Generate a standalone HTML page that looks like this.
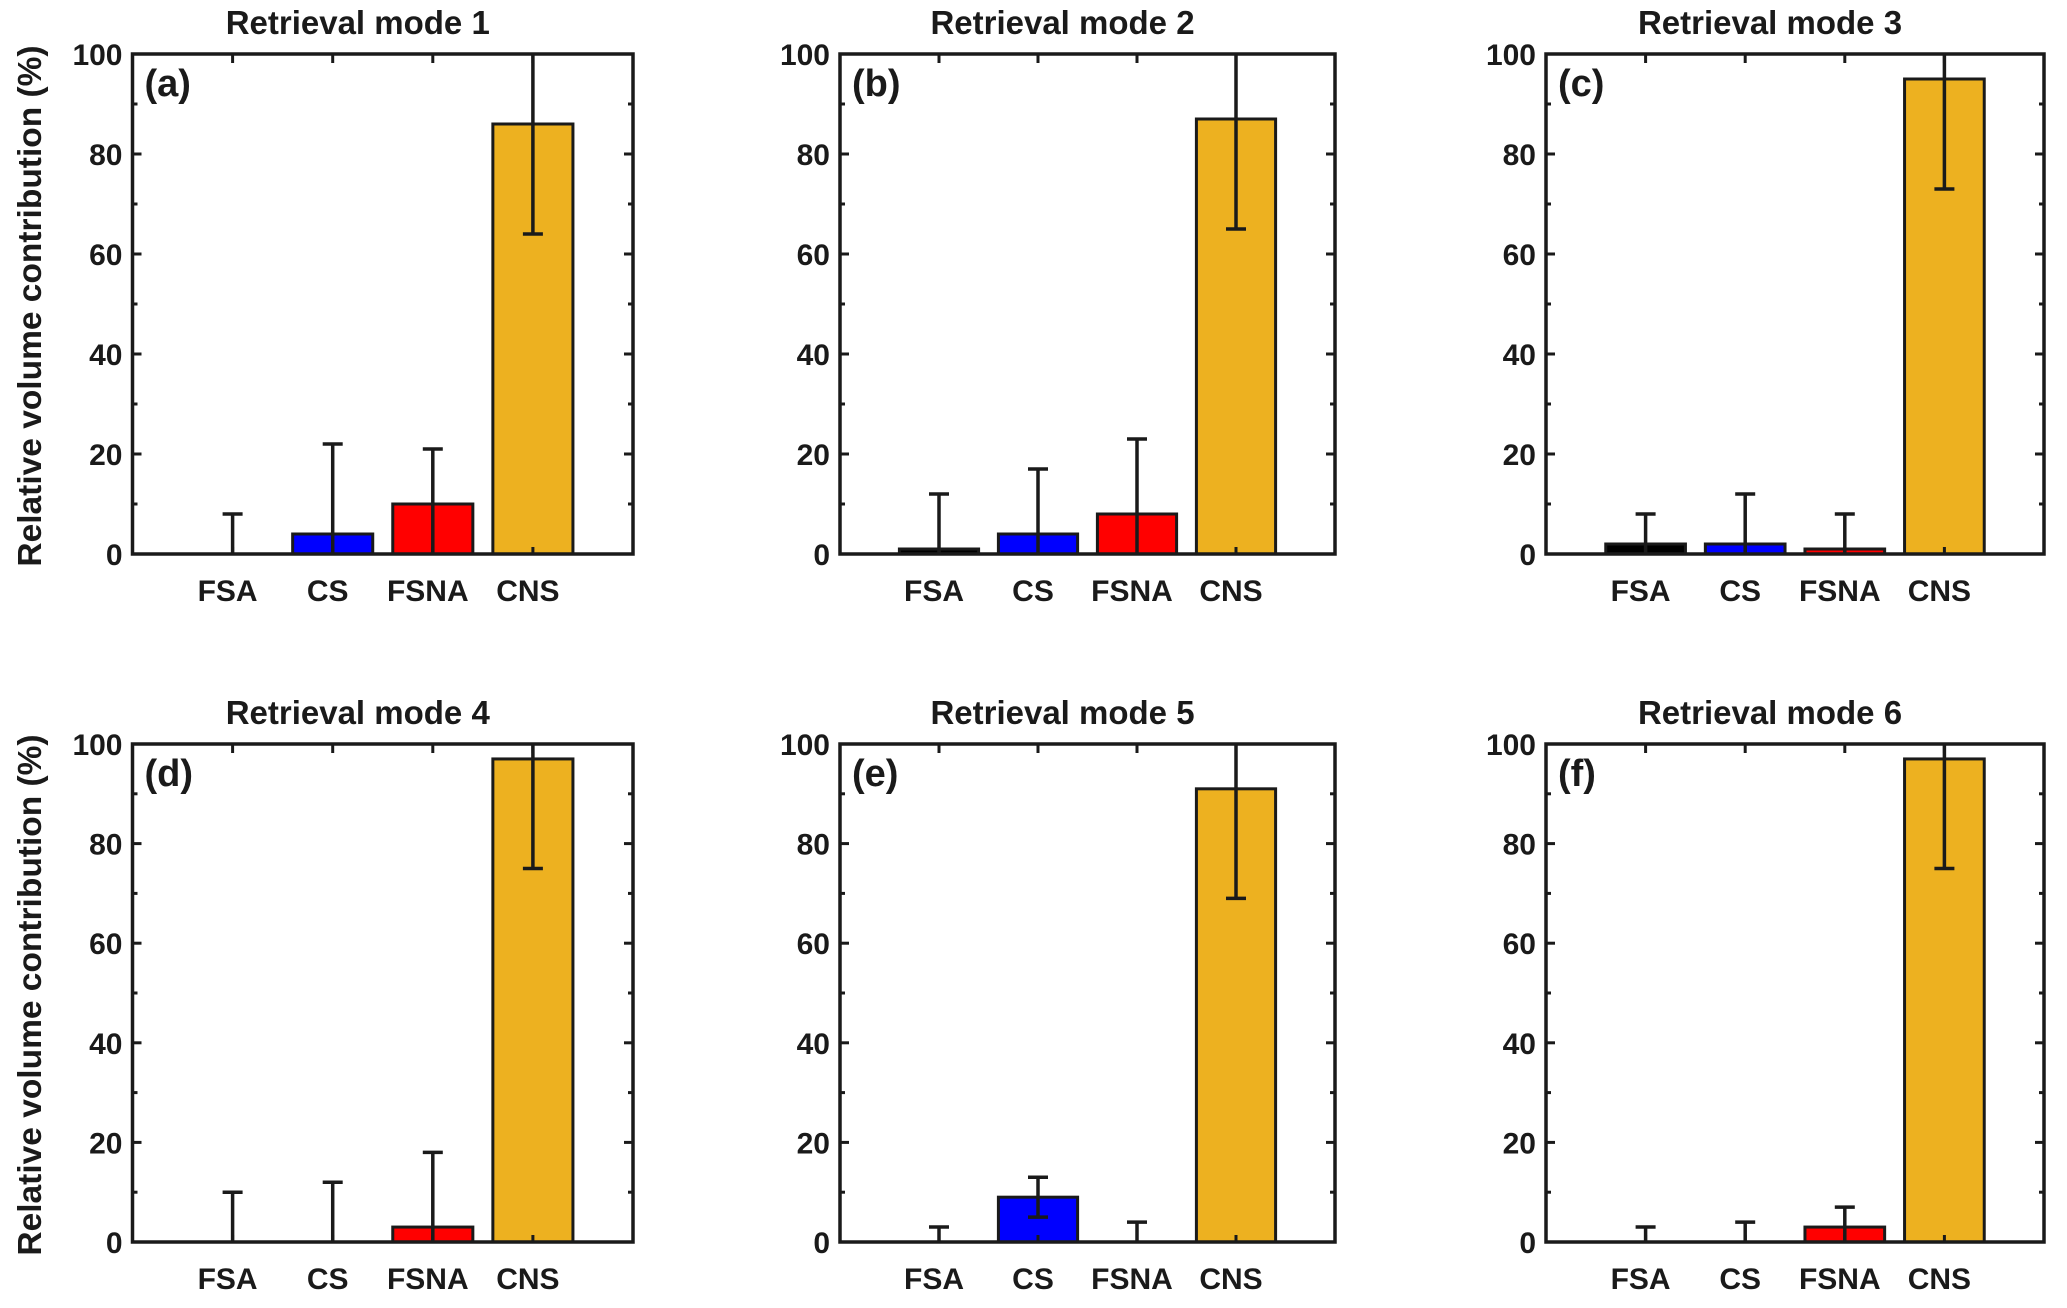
<!DOCTYPE html>
<html><head><meta charset="utf-8"><style>
body{margin:0;background:#fff;}
svg text{font-family:"Liberation Sans",Arial,sans-serif;font-weight:bold;fill:#1a1a1a;}
</style></head><body>
<svg id="fig" width="2067" height="1303" viewBox="0 0 2067 1303" xmlns="http://www.w3.org/2000/svg"></svg>
<script>
const categories=["FSA","CS","FSNA","CNS"];
const colors=["#000000","#0000ff","#ff0000","#edb120"];
const titles=["Retrieval mode 1","Retrieval mode 2","Retrieval mode 3","Retrieval mode 4","Retrieval mode 5","Retrieval mode 6"];
const letters=["(a)","(b)","(c)","(d)","(e)","(f)"];
const values=[[0,4,10,86],[1,4,8,87],[2,2,1,95],[0,0,3,97],[0,9,0,91],[0,0,3,97]];
const errors=[[8,18,11,22],[11,13,15,22],[6,10,7,22],[10,12,15,22],[3,4,4,22],[3,4,4,22]];
const yTicks=[0,20,40,60,80,100];
const NS="http://www.w3.org/2000/svg";
const svg=document.getElementById('fig');
function mk(tag,at,parent){const e=document.createElementNS(NS,tag);for(const k in at)e.setAttribute(k,at[k]);(parent||svg).appendChild(e);return e;}
const colsX=[[132.5,633],[840,1335],[1546,2044]];
const rowsY=[[54,554],[744,1242]];
for(let p=0;p<6;p++){
  const [x0,x1]=colsX[p%3],[y0,y1]=rowsY[Math.floor(p/3)];
  const g=mk('g',{});
  
  
  const sx=v=>x0+(x1-x0)*v/5;
  const sy=v=>y1-(y1-y0)*Math.max(0,Math.min(100,v))/100;
  const bw=(sx(0.8)-sx(0));
  for(let i=0;i<4;i++){
    const v=values[p][i];
    const r=mk('rect',{x:sx(i+1)-bw/2,y:sy(v),width:bw,height:y1-sy(v),fill:colors[i],stroke:'#1a1a1a','stroke-width':3},g);
    
    
  }
  for(let i=0;i<4;i++){
    const v=values[p][i],e=errors[p][i],cx=sx(i+1);
    const hi=v+e,lo=v-e;
    const eg=mk('g',{stroke:'#1a1a1a','stroke-width':3.5},g);
    
    
    mk('line',{x1:cx,x2:cx,y1:sy(hi),y2:sy(lo)},eg);
    if(hi<=100) mk('line',{x1:cx-10,x2:cx+10,y1:sy(hi),y2:sy(hi)},eg);
    if(lo>=0) mk('line',{x1:cx-10,x2:cx+10,y1:sy(lo),y2:sy(lo)},eg);
  }
  for(let t=0;t<=100;t+=10){
    const y=sy(t),len=(t%20===0)?9:5;
    mk('line',{x1:x0,x2:x0+len,y1:y,y2:y,stroke:'#1a1a1a','stroke-width':3},g);
    mk('line',{x1:x1,x2:x1-len,y1:y,y2:y,stroke:'#1a1a1a','stroke-width':3},g);
  }
  for(let i=0;i<4;i++){
    mk('line',{x1:sx(i+1),x2:sx(i+1),y1:y0,y2:y0+9,stroke:'#1a1a1a','stroke-width':3},g);
    mk('line',{x1:sx(i+1),x2:sx(i+1),y1:y1,y2:y1-7,stroke:'#1a1a1a','stroke-width':3},g);
  }
  const frame=mk('rect',{x:x0,y:y0,width:x1-x0,height:y1-y0,fill:'none',stroke:'#1a1a1a','stroke-width':3.5},g);
  
  
  yTicks.forEach(t=>{
    const tl=mk('text',{x:x0-10,y:sy(t)+11,'text-anchor':'end','font-size':30},g);
    tl.textContent=t;
    
    
  });
  categories.forEach((c,i)=>{
    const tl=mk('text',{x:sx(i+1)-5,y:y1+47,'text-anchor':'middle','font-size':30},g);
    tl.textContent=c;
    
    
  });
  const tt=mk('text',{x:(x0+x1)/2-25,y:y0-20,'text-anchor':'middle','font-size':33},g);
  tt.textContent=titles[p];
  
  
  const lt=mk('text',{x:x0+12,y:y0+42,'font-size':38},g);
  lt.textContent=letters[p];
  
  
}
rowsY.forEach(([y0,y1])=>{
  const cy=(y0+y1)/2+2;
  const t=mk('text',{x:0,y:0,'text-anchor':'middle','font-size':33.5,transform:`translate(41,${cy}) rotate(-90)`});
  t.textContent='Relative volume contribution (%)';
  
  
});
</script>
</body></html>
